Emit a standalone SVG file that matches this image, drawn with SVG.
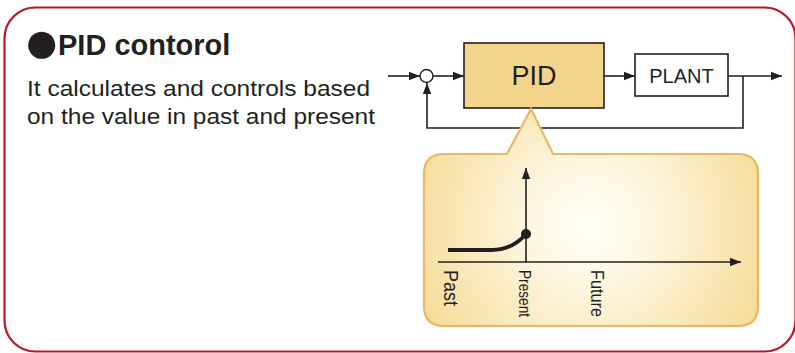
<svg xmlns="http://www.w3.org/2000/svg" width="795" height="353" viewBox="0 0 795 353">
<style>
.ln{fill:none;stroke:#231f20;stroke-width:1.6}
.t{font-family:"Liberation Sans",Arial,sans-serif;fill:#231f20}
</style>
<defs>
<marker id="ah" markerUnits="userSpaceOnUse" markerWidth="12" markerHeight="10" refX="11" refY="5" orient="auto">
<path d="M0,0.8 L11,5 L0,9.2 Z" fill="#231f20"/>
</marker>
<radialGradient id="cg" cx="590" cy="225" r="200" gradientUnits="userSpaceOnUse">
<stop offset="0" stop-color="#fffefa"/>
<stop offset="0.35" stop-color="#fdf5dc"/>
<stop offset="1" stop-color="#f5d98f"/>
</radialGradient>
</defs>
<rect id="frame" x="4.5" y="7.5" width="791" height="344" rx="31" fill="#fff" stroke="#b3192c" stroke-width="2.2"/>
<g id="title">
<text class="t" x="22.5" y="63" font-family="DejaVu Sans,sans-serif" font-size="63">●</text>
<text class="t" x="58" y="55" font-size="29" font-weight="bold">PID contorol</text>
</g>
<g id="desc">
<text class="t" x="27" y="96" font-size="22" textLength="343" lengthAdjust="spacingAndGlyphs">It calculates and controls based</text>
<text class="t" x="27" y="124" font-size="22" textLength="348" lengthAdjust="spacingAndGlyphs">on the value in past and present</text>
</g>
<g id="connectors">
<line class="ln" x1="388" y1="76" x2="420" y2="76" marker-end="url(#ah)"/>
<line class="ln" x1="433" y1="76" x2="464" y2="76" marker-end="url(#ah)"/>
<line class="ln" x1="604" y1="76" x2="635" y2="76" marker-end="url(#ah)"/>
<line class="ln" x1="728" y1="76" x2="782" y2="76" marker-end="url(#ah)"/>
<polyline class="ln" points="743,76 743,128 427,128 427,83" marker-end="url(#ah)"/>
</g>
<g id="sum">
<circle cx="426.5" cy="76" r="6.5" fill="#fff" stroke="#231f20" stroke-width="1.4"/>
</g>
<g id="pid">
<rect x="464" y="43" width="140" height="65" fill="#f2d48a" stroke="#231f20" stroke-width="1.6"/>
<text class="t" x="534" y="85" font-size="27" text-anchor="middle">PID</text>
</g>
<g id="plant">
<rect x="635" y="54" width="93" height="42" fill="#fff" stroke="#231f20" stroke-width="1.6"/>
<text class="t" x="681.5" y="83" font-size="20" text-anchor="middle">PLANT</text>
</g>
<g id="callout">
<path d="M444,154 L507,154 L531,109 L553,154 L738,154 Q758,154 758,174 L758,306 Q758,326 738,326 L444,326 Q424,326 424,306 L424,174 Q424,154 444,154 Z" fill="url(#cg)" stroke="#e8b866" stroke-width="2.2"/>
<line class="ln" x1="438" y1="262" x2="741" y2="262" marker-end="url(#ah)"/>
<line class="ln" x1="526" y1="262" x2="526" y2="168" marker-end="url(#ah)"/>
<path d="M448,250 L492,250 Q512,250 526,234" fill="none" stroke="#231f20" stroke-width="3.8"/>
<circle cx="526" cy="234" r="5" fill="#231f20"/>
<text class="t" transform="translate(444,270) rotate(90)" font-size="20" textLength="36" lengthAdjust="spacingAndGlyphs">Past</text>
<text class="t" transform="translate(519,270) rotate(90)" font-size="16" textLength="47" lengthAdjust="spacingAndGlyphs">Present</text>
<text class="t" transform="translate(591,270) rotate(90)" font-size="18" textLength="47" lengthAdjust="spacingAndGlyphs">Future</text>
</g>
</svg>
